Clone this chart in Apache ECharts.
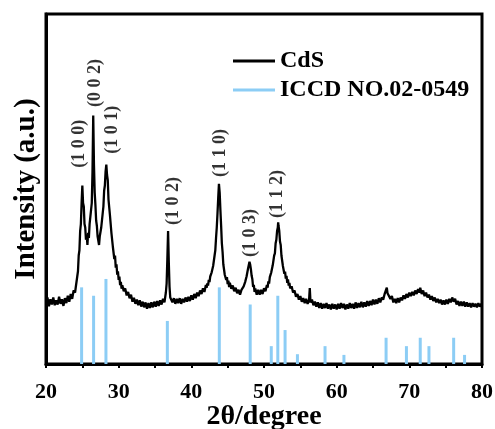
<!DOCTYPE html>
<html>
<head>
<meta charset="utf-8">
<script src="https://cdn.jsdelivr.net/npm/echarts@6/dist/echarts.min.js"></script>
<style>html,body{margin:0;padding:0;background:#fff}#c{width:495px;height:429px}</style>
</head>
<body>
<div id="c"></div>
<script>
// CdS measured XRD pattern: [2theta, intensity]
var cdsPattern = [
[20.0,17.5],[20.2,19.0],[20.4,16.5],[20.6,18.5],[20.8,17.0],[21.0,19.0],[21.2,16.8],[21.4,18.2],[21.6,17.0],[21.8,19.2],
[22.0,17.2],[22.2,18.5],[22.4,16.6],[22.6,18.8],[22.8,17.4],[23.0,19.5],[23.2,17.8],[23.4,20.0],[23.6,18.6],[23.8,21.0],
[24.0,20.4],[24.1,22.0],[24.2,21.6],[24.3,25.0],[24.4,26.5],[24.5,31.0],[24.6,32.5],[24.7,38.0],[24.8,40.0],[24.9,46.0],
[25.0,51.0],[25.1,46.0],[25.2,45.0],[25.3,40.0],[25.4,39.0],[25.5,35.5],[25.6,37.0],[25.7,34.0],[25.8,37.5],[25.9,36.0],
[26.0,40.0],[26.1,39.5],[26.2,44.0],[26.3,46.0],[26.4,55.0],[26.5,71.0],[26.6,57.0],[26.7,49.0],[26.8,45.5],[26.9,41.0],
[27.0,39.5],[27.1,36.5],[27.2,37.0],[27.3,34.0],[27.4,36.5],[27.5,36.0],[27.6,39.0],[27.7,39.5],[27.8,43.0],[27.9,45.0],
[28.0,49.5],[28.1,51.0],[28.2,55.0],[28.3,57.0],[28.4,54.0],[28.5,52.5],[28.6,47.0],[28.7,47.0],[28.8,42.5],[28.9,42.0],
[29.0,37.5],[29.1,37.0],[29.2,33.5],[29.3,33.5],[29.4,30.0],[29.5,31.0],[29.6,27.5],[29.7,28.5],[29.8,25.5],[29.9,26.5],
[30.0,24.0],[30.1,25.0],[30.2,22.5],[30.3,23.5],[30.4,21.5],[30.5,22.5],[30.7,20.8],[30.9,21.6],[31.1,19.6],[31.3,20.6],
[31.5,18.8],[31.7,19.8],[31.9,17.8],[32.1,18.9],[32.3,17.2],[32.5,18.4],[32.7,16.8],[32.9,18.2],[33.1,16.4],[33.3,17.8],
[33.5,16.2],[33.7,17.6],[33.9,15.8],[34.1,17.4],[34.3,16.0],[34.5,17.6],[34.7,16.2],[34.9,17.8],[35.1,16.4],[35.3,18.0],
[35.5,16.6],[35.7,18.2],[35.9,17.0],[36.1,18.6],[36.3,17.6],[36.5,20.5],[36.6,23.0],[36.7,30.0],[36.8,38.0],[36.9,29.0],
[37.0,22.0],[37.1,19.0],[37.2,18.8],[37.4,17.6],[37.6,18.8],[37.8,17.2],[38.0,18.6],[38.2,17.4],[38.4,18.8],[38.6,17.2],
[38.8,18.6],[39.0,17.6],[39.2,19.0],[39.4,17.8],[39.6,19.2],[39.8,18.0],[40.0,19.6],[40.2,18.4],[40.4,20.0],[40.6,18.8],
[40.8,20.4],[41.0,19.4],[41.2,21.0],[41.4,20.0],[41.6,21.6],[41.8,20.6],[42.0,22.6],[42.1,21.8],[42.2,23.0],[42.3,22.4],
[42.4,24.0],[42.5,23.4],[42.6,25.0],[42.7,24.6],[42.8,26.2],[42.9,26.0],[43.0,28.0],[43.1,28.5],[43.2,31.0],[43.3,32.5],
[43.4,36.0],[43.5,39.0],[43.6,43.0],[43.7,47.5],[43.8,51.5],[43.9,49.0],[44.0,44.0],[44.1,39.5],[44.2,34.5],[44.3,32.0],
[44.4,28.5],[44.5,28.0],[44.6,25.5],[44.7,26.0],[44.8,24.0],[44.9,24.8],[45.0,22.8],[45.1,23.8],[45.2,22.0],[45.3,23.2],
[45.5,21.5],[45.7,22.4],[45.9,20.8],[46.1,21.8],[46.3,20.2],[46.5,21.2],[46.7,19.8],[46.9,21.2],[47.1,20.8],[47.2,22.2],
[47.3,21.8],[47.4,23.4],[47.5,23.0],[47.6,25.0],[47.7,25.0],[47.8,27.2],[47.9,27.6],[48.0,29.2],[48.1,28.4],[48.2,27.0],
[48.3,25.2],[48.4,24.2],[48.5,22.0],[48.6,22.6],[48.7,20.6],[48.8,21.6],[49.0,19.8],[49.2,21.2],[49.4,19.8],[49.6,21.2],
[49.8,20.0],[50.0,21.6],[50.2,20.8],[50.4,22.6],[50.5,21.8],[50.6,23.6],[50.7,23.0],[50.8,24.8],[50.9,24.4],[51.0,26.2],
[51.1,26.0],[51.2,28.2],[51.3,28.4],[51.4,31.0],[51.5,31.6],[51.6,34.5],[51.7,35.5],[51.8,38.0],[51.9,39.0],[51.95,40.5],
[52.0,39.5],[52.1,38.0],[52.2,35.0],[52.3,34.0],[52.4,31.0],[52.5,30.5],[52.6,28.0],[52.7,28.0],[52.8,25.8],[52.9,26.4],
[53.0,24.4],[53.1,25.2],[53.2,23.2],[53.3,24.2],[53.4,22.4],[53.5,23.2],[53.6,21.6],[53.8,22.2],[54.0,20.4],[54.2,21.0],
[54.4,19.2],[54.6,20.0],[54.8,18.4],[55.0,19.4],[55.2,17.8],[55.4,18.8],[55.6,17.4],[55.8,18.6],[56.0,17.2],[56.2,18.2],
[56.3,21.7],[56.4,17.6],[56.6,18.4],[56.8,16.8],[57.0,17.8],[57.2,16.4],[57.4,17.6],[57.6,16.0],[57.8,17.4],[58.0,15.8],
[58.2,17.2],[58.4,16.0],[58.6,17.4],[58.8,15.8],[59.0,17.0],[59.2,15.6],[59.4,17.2],[59.6,15.8],[59.8,17.0],[60.0,15.6],
[60.2,17.2],[60.4,15.8],[60.6,17.4],[60.8,16.0],[61.0,17.2],[61.2,15.6],[61.4,17.0],[61.6,15.8],[61.8,17.4],[62.0,16.0],
[62.2,17.2],[62.4,15.8],[62.6,17.6],[62.8,16.0],[63.0,17.4],[63.2,16.2],[63.4,17.8],[63.6,16.2],[63.8,17.6],[64.0,16.4],
[64.2,18.0],[64.4,16.6],[64.6,18.0],[64.8,16.8],[65.0,18.4],[65.2,17.0],[65.4,18.4],[65.6,17.2],[65.8,18.8],[66.0,17.6],
[66.2,19.0],[66.4,18.4],[66.6,20.0],[66.8,20.4],[66.9,21.8],[67.0,20.2],[67.2,19.8],[67.4,18.6],[67.6,19.4],[67.8,17.6],
[68.0,18.6],[68.2,17.4],[68.4,18.8],[68.6,17.6],[68.8,19.0],[69.0,18.2],[69.2,19.6],[69.4,18.6],[69.6,20.0],[69.8,19.0],
[70.0,20.4],[70.2,19.4],[70.4,20.6],[70.6,19.6],[70.8,21.0],[71.0,20.0],[71.2,21.4],[71.4,20.4],[71.5,21.8],[71.7,20.0],
[71.9,21.0],[72.1,19.4],[72.3,20.4],[72.5,19.0],[72.7,19.8],[72.9,18.4],[73.1,19.4],[73.3,18.0],[73.5,19.0],[73.7,17.6],
[73.9,18.6],[74.1,17.4],[74.3,18.4],[74.5,17.0],[74.7,18.2],[74.9,17.0],[75.1,18.4],[75.3,17.2],[75.5,18.6],[75.7,17.6],
[75.9,19.0],[76.1,17.8],[76.3,18.6],[76.5,17.0],[76.7,18.0],[76.9,16.6],[77.1,17.8],[77.3,16.6],[77.5,17.8],[77.7,16.4],
[77.9,17.6],[78.1,16.4],[78.3,17.4],[78.5,16.2],[78.7,17.4],[78.9,16.4],[79.1,17.2],[79.3,16.2],[79.5,17.4],[79.7,16.4],
[79.9,17.2],[80.0,16.8]
];

// ICCD NO.02-0549 reference lines
var iccdAngles  = [24.9, 26.55, 28.25, 36.7, 43.85, 48.1, 51.0, 51.9, 52.9, 54.6, 58.4, 61.0, 66.8, 69.6, 71.5, 72.7, 76.1, 77.6];
var iccdHeights = [21.9, 19.5, 24.3, 12.3, 21.9, 17.0, 5.1, 19.5, 9.7, 2.8, 5.1, 2.6, 7.5, 5.1, 7.5, 5.1, 7.5, 2.6];

// peak index labels
var peakLabelAngles  = [24.54, 26.74, 29.08, 37.48, 43.94, 48.07, 51.8];
var peakLabelHeights = [62.9, 80.3, 66.9, 46.6, 60.3, 37.4, 48.6];
var peakLabelTexts   = ['(1 0 0)', '(0 0 2)', '(1 0 1)', '(1 0 2)', '(1 1 0)', '(1 0 3)', '(1 1 2)'];

// axis ticks
var xMin = 20, xMax = 80, xStep = 10;

var FONT = 'Liberation Serif';
var iccdData = iccdAngles.map(function (a, i) { return [a, iccdHeights[i]]; });
var labelData = peakLabelAngles.map(function (a, i) { return [a, peakLabelHeights[i], peakLabelTexts[i]]; });

var chart = echarts.init(document.getElementById('c'));
chart.setOption({
  animation: false,
  backgroundColor: '#fff',
  grid: { left: 46, right: 13, top: 14, bottom: 65, show: true, borderColor: '#000', borderWidth: 3,
          backgroundColor: 'transparent', containLabel: false, outerBoundsMode: 'none' },
  legend: {
    orient: 'vertical', left: 228, top: 44, itemWidth: 42, itemHeight: 3, itemGap: 5,
    data: [{ name: 'CdS', icon: 'rect' }, { name: 'ICCD NO.02-0549', icon: 'rect' }],
    textStyle: { fontFamily: FONT, fontWeight: 'bold', fontSize: 24, color: '#000' }
  },
  xAxis: {
    type: 'value', min: xMin, max: xMax, interval: xStep,
    axisLine: { lineStyle: { color: '#000', width: 3 } },
    axisTick: { show: true, length: 4, lineStyle: { color: '#000', width: 2 } },
    minorTick: { show: true, splitNumber: 2, length: 4, lineStyle: { color: '#000', width: 2 } },
    splitLine: { show: false },
    axisLabel: { fontFamily: FONT, fontWeight: 'bold', fontSize: 22, color: '#000', margin: 17 },
    name: '2θ/degree', nameLocation: 'middle', nameGap: 39, nameMoveOverlap: false,
    nameTextStyle: { fontFamily: FONT, fontWeight: 'bold', fontSize: 28, color: '#000', lineHeight: 28 }
  },
  yAxis: {
    type: 'value', min: 0, max: 100,
    axisLine: { show: true, lineStyle: { color: '#000', width: 3 } },
    axisTick: { show: false }, axisLabel: { show: false }, splitLine: { show: false },
    name: 'Intensity (a.u.)', nameLocation: 'middle', nameGap: 5, nameMoveOverlap: false,
    nameTextStyle: { fontFamily: FONT, fontWeight: 'bold', fontSize: 29, color: '#000' }
  },
  series: [
    {
      name: 'ICCD NO.02-0549', type: 'bar', data: iccdData, barWidth: 3,
      itemStyle: { color: '#8ccdf5' }, z: 2
    },
    {
      name: 'CdS', type: 'line', data: cdsPattern, symbol: 'none',
      lineStyle: { color: '#000', width: 2.3 }, itemStyle: { color: '#000' }, z: 3
    },
    {
      name: 'labels', type: 'scatter', data: labelData, symbolSize: 1,
      itemStyle: { color: 'rgba(0,0,0,0)' }, silent: true,
      label: {
        show: true, position: 'inside', rotate: 90,
        formatter: function (p) { return p.data[2]; },
        fontFamily: FONT, fontWeight: 'bold', fontSize: 18, color: '#000'
      },
      labelLayout: { hideOverlap: false },
      z: 4
    }
  ]
});
</script>
</body>
</html>
